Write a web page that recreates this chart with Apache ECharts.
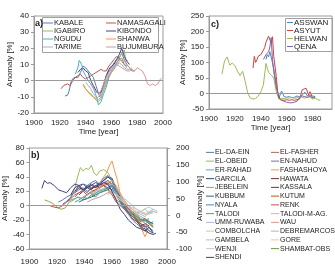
<!DOCTYPE html>
<html>
<head>
<meta charset="utf-8">
<script src="https://cdn.jsdelivr.net/npm/echarts@6/dist/echarts.min.js"></script>
<style>
html, body { margin: 0; padding: 0; background: #fff; }
#chart { width: 335px; height: 266px; }
</style>
</head>
<body>
<div id="chart"></div>
<script>
// panel a) - East Africa (lake region)
const kabale = [[1924,-9.5],[1926,-9],[1927,-7],[1928,-6],[1929,0],[1931,2],[1934,2],[1936,5],[1937,7],[1938,9],[1940,8],[1942,6],[1944,4],[1946,2],[1948,-3],[1950,-8],[1951,-10],[1952,-9],[1954,-3],[1956,3],[1958,6],[1960,8],[1962,11],[1964,13],[1966,14],[1968,17],[1970,13],[1972,10],[1974,8],[1976,6],[1978,6]]
const namasagali = [[1921,-5],[1923,-3],[1926,-2],[1928,-3],[1930,0],[1932,2],[1934,3],[1936,4],[1938,2],[1940,1],[1942,2],[1944,3],[1946,4],[1948,5],[1950,6],[1952,7],[1954,6],[1956,6],[1958,9],[1960,11],[1962,13],[1964,15],[1966,14],[1968,12],[1970,10],[1972,9]]
const igabiro = [[1938,-3],[1940,-5],[1942,-7],[1944,-9],[1946,-10],[1948,-12],[1950,-13],[1952,-11],[1954,-6],[1956,-2],[1958,2],[1960,5],[1962,8],[1964,11],[1966,14],[1968,17],[1970,19],[1971,13],[1973,12]]
const kibondo = [[1934,5],[1936,7],[1938,8],[1940,6],[1942,5],[1944,0],[1946,-3],[1948,-6],[1950,-8],[1952,-7],[1954,-2],[1956,3],[1958,7],[1960,9],[1962,10],[1964,13],[1966,16],[1968,20],[1970,15],[1972,12],[1974,10]]
const ngudu = [[1932,4],[1934,8],[1935,12.5],[1937,10],[1938,6],[1940,3],[1942,0],[1944,-2],[1946,-4],[1948,-9],[1950,-15],[1952,-13],[1954,-8],[1956,-4],[1958,2],[1960,6],[1962,9],[1964,11],[1966,13],[1968,14],[1970,10],[1972,8]]
const shanwa = [[1938,-2],[1940,-5],[1942,-7],[1944,-8],[1946,-10],[1948,-11],[1950,-10],[1952,-8],[1954,-5],[1956,-1],[1958,3],[1960,5],[1962,7],[1964,10],[1966,12],[1968,14],[1970,12],[1972,10],[1974,8],[1976,7]]
const tarime = [[1940,-1],[1942,-3],[1944,-5],[1946,-8],[1948,-10],[1950,-12],[1952,-10],[1954,-4],[1956,0],[1958,4],[1960,6],[1962,8],[1964,9],[1966,11],[1968,10],[1970,8],[1972,7],[1974,7],[1976,8]]
const bujumbura = [[1944,-2],[1946,-5],[1948,-7],[1950,-8],[1952,-6],[1954,-2],[1956,2],[1958,5],[1960,7],[1962,9],[1964,10],[1966,9],[1968,8],[1970,7],[1972,6],[1974,6],[1976,7],[1978,6],[1980,8],[1982,7],[1984,6],[1986,3],[1988,-2],[1990,-3],[1992,-2],[1994,-3],[1996,-2],[1998,1],[1999,1.5]]

// panel c) - Egypt
const asswan = [[1944,110],[1945,125],[1946,118],[1947,135],[1948,140],[1949,100],[1950,80],[1952,30],[1954,-15],[1956,8],[1957,10],[1958,-10],[1960,-12],[1962,-10],[1964,-14],[1966,-12],[1968,-8],[1970,-12],[1972,-5],[1974,5],[1976,-8],[1978,-5],[1980,-8],[1982,-10]]
const asyut = [[1934,82],[1935,120],[1936,100],[1937,108],[1938,120],[1940,125],[1942,140],[1943,148],[1944,165],[1946,185],[1947,191],[1948,163],[1949,183],[1950,120],[1952,54],[1953,5],[1955,-20],[1958,-22],[1960,-20],[1962,-22],[1964,-20],[1966,-22],[1968,-20],[1970,-18],[1972,12],[1973,18],[1975,17],[1977,-5],[1978,6],[1980,-15]]
const helwan = [[1910,62],[1912,105],[1914,118],[1916,92],[1918,98],[1920,90],[1922,72],[1924,58],[1926,72],[1928,38],[1930,0],[1932,-15],[1934,-18],[1936,-16],[1938,-8],[1940,5],[1942,28],[1944,97],[1946,68],[1948,60],[1950,50],[1952,5],[1954,-18],[1956,-15],[1958,-17],[1960,-14],[1962,-15],[1964,-12],[1966,-16],[1968,-14],[1970,-10],[1972,-12],[1974,-15],[1976,-12],[1978,-10],[1980,-18],[1982,-15],[1984,-20],[1986,-22]]
const qena = [[1942,110],[1944,125],[1946,135],[1947,150],[1948,180],[1949,110],[1950,70],[1952,20],[1954,-15],[1956,-22],[1958,-25],[1960,-28],[1962,-30],[1964,-30],[1966,-28],[1968,-25],[1970,-12],[1972,-8],[1974,-10],[1976,-12],[1978,-10],[1980,-14],[1982,-12]]

// panel b) - Sudan / Ethiopia
const elDaEin = [[1921,5],[1924,8],[1927,12],[1930,15],[1933,18],[1936,22],[1939,25],[1942,20],[1945,24],[1948,28],[1951,26],[1954,30],[1957,32],[1960,25],[1963,15],[1966,5],[1969,0],[1972,-5],[1975,-12],[1978,-15],[1981,-20],[1984,-25],[1987,-22],[1990,-28]]
const elFasher = [[1933,12],[1936,18],[1939,22],[1942,25],[1945,28],[1948,26],[1951,30],[1954,32],[1957,35],[1960,28],[1963,18],[1966,8],[1969,2],[1972,-5],[1975,-10],[1978,-18],[1981,-22],[1984,-20],[1987,-25],[1990,-30]]
const elObeid = [[1930,10],[1933,25],[1935,40],[1937,53],[1939,48],[1941,52],[1943,50],[1945,56],[1947,45],[1949,42],[1951,48],[1954,50],[1957,46],[1960,35],[1963,20],[1966,8],[1969,-2],[1972,-8],[1975,-12],[1978,-18],[1981,-25],[1984,-30],[1987,-35],[1990,-38]]
const enNahud = [[1924,2],[1927,6],[1930,12],[1933,20],[1936,28],[1939,22],[1942,18],[1945,25],[1948,28],[1951,24],[1954,30],[1957,35],[1960,30],[1963,20],[1966,10],[1969,0],[1972,-8],[1975,-15],[1978,-20],[1981,-25],[1984,-28],[1987,-30],[1990,-35]]
const erRahad = [[1927,5],[1930,8],[1933,10],[1936,12],[1939,8],[1942,10],[1945,15],[1948,18],[1951,20],[1954,22],[1957,25],[1960,30],[1963,20],[1966,5],[1969,-5],[1972,-10],[1975,-15],[1978,-12],[1981,-18],[1984,-20],[1987,-25],[1990,-22]]
const fashashoya = [[1948,25],[1951,32],[1954,40],[1956,45],[1958,55],[1960,62],[1962,48],[1964,35],[1966,15],[1969,5],[1972,0],[1975,-10],[1978,-18],[1981,-30],[1984,-43],[1986,-35]]
const garcila = [[1936,15],[1939,20],[1942,25],[1945,22],[1948,28],[1951,30],[1954,35],[1957,40],[1960,38],[1963,25],[1966,12],[1969,5],[1972,-5],[1975,-10],[1978,-20],[1981,-30],[1984,-32],[1987,-38],[1990,-40],[1992,-38]]
const hawata = [[1933,20],[1936,25],[1939,22],[1942,28],[1945,24],[1948,26],[1951,30],[1954,28],[1957,25],[1960,22],[1963,18],[1966,10],[1969,0],[1972,-5],[1975,-10],[1978,-15],[1981,-20],[1984,-25],[1987,-28]]
const jebelein = [[1911,8],[1914,6],[1917,3],[1920,-2],[1923,-5],[1926,-3],[1929,5],[1932,8],[1935,12],[1938,10],[1941,15],[1944,18],[1947,15],[1950,20],[1953,22],[1956,25],[1959,20],[1962,12],[1965,5],[1968,-2],[1971,-8],[1974,-12],[1977,-15],[1980,-18],[1983,-22],[1986,-20]]
const kassala = [[1930,15],[1933,25],[1936,28],[1939,30],[1942,25],[1945,28],[1948,32],[1951,30],[1954,35],[1957,40],[1960,35],[1963,20],[1966,8],[1969,-2],[1972,-10],[1975,-18],[1978,-22],[1981,-28],[1984,-25],[1987,-30]]
const kubbum = [[1936,5],[1939,8],[1942,10],[1945,12],[1948,15],[1951,18],[1954,20],[1957,22],[1960,28],[1963,20],[1966,10],[1969,0],[1972,-5],[1975,-10],[1978,-15],[1981,-20],[1984,-18],[1987,-22],[1990,-25]]
const kutum = [[1939,10],[1942,15],[1945,20],[1948,22],[1951,25],[1954,28],[1957,30],[1960,35],[1963,25],[1966,15],[1969,5],[1972,-5],[1975,-12],[1978,-20],[1981,-28],[1984,-35],[1987,-38]]
const nyala = [[1933,18],[1936,25],[1939,30],[1942,28],[1945,32],[1948,35],[1951,30],[1954,38],[1957,42],[1960,35],[1963,20],[1966,5],[1969,-5],[1972,-12],[1975,-20],[1978,-25],[1981,-30],[1984,-28],[1987,-35],[1990,-38]]
const renk = [[1915,0],[1918,-2],[1921,-3],[1924,0],[1927,5],[1930,10],[1933,15],[1936,18],[1939,20],[1942,15],[1945,18],[1948,22],[1951,25],[1954,28],[1957,22],[1960,15],[1963,5],[1966,0],[1969,-5],[1972,-10],[1975,-15],[1978,-20],[1981,-25],[1984,-30]]
const talodi = [[1933,5],[1936,8],[1939,12],[1942,10],[1945,15],[1948,12],[1951,18],[1954,20],[1957,25],[1960,28],[1963,18],[1966,8],[1969,0],[1972,-8],[1975,-12],[1978,-18],[1981,-22],[1984,-20],[1987,-18]]
const talodiMAg = [[1945,15],[1948,20],[1951,25],[1954,30],[1957,32],[1960,35],[1963,28],[1966,18],[1969,8],[1972,0],[1975,-10],[1978,-15],[1981,-20],[1984,-25],[1987,-30]]
const ummRuwaba = [[1936,10],[1939,12],[1942,15],[1945,18],[1948,20],[1951,22],[1954,24],[1957,28],[1960,30],[1963,25],[1966,15],[1969,5],[1972,-2],[1975,-8],[1978,-10],[1981,-12],[1984,-15],[1987,-10],[1990,-8]]
const wau = [[1942,5],[1945,8],[1948,10],[1951,12],[1954,15],[1957,18],[1960,20],[1963,15],[1966,10],[1969,2],[1972,-5],[1975,-10],[1978,-12],[1981,-15],[1984,-18],[1987,-20]]
const combolcha = [[1960,20],[1963,15],[1966,12],[1969,5],[1972,0],[1975,-5],[1978,-8],[1981,-10],[1984,-12],[1987,-8],[1990,-5]]
const debremarcos = [[1957,15],[1960,22],[1963,18],[1966,10],[1969,5],[1972,0],[1975,-5],[1978,-10],[1981,-8],[1984,-12],[1987,-10],[1990,-8],[1993,-10]]
const gambela = [[1969,10],[1972,5],[1975,0],[1978,-5],[1981,-8],[1984,-5],[1987,-10],[1990,-5],[1993,-8]]
const gore = [[1960,18],[1963,12],[1966,8],[1969,4],[1972,0],[1975,-3],[1978,-5],[1981,-8],[1984,-10],[1987,-12],[1990,-10]]
const wenji = [[1975,-2],[1978,-5],[1981,-8],[1984,-4],[1987,-2],[1990,-5],[1993,-8]]
const shambatObs = [[1975,-8],[1978,-15],[1981,-20],[1984,-18],[1987,-25],[1990,-30]]
const shendi = [[1909,24],[1911,35],[1913,31],[1915,32],[1918,28],[1921,22],[1924,20],[1927,18],[1930,25],[1933,30],[1936,28],[1939,22],[1942,26],[1945,30],[1948,25],[1951,28],[1954,32],[1957,30],[1960,20],[1963,8],[1966,-5],[1969,-12],[1972,-20],[1975,-25],[1978,-30],[1981,-32],[1984,-35],[1987,-30],[1990,-38]]

const namesA = ['KABALE', 'NAMASAGALI', 'IGABIRO', 'KIBONDO', 'NGUDU', 'SHANWA', 'TARIME', 'BUJUMBURA']
const dataA = [kabale, namasagali, igabiro, kibondo, ngudu, shanwa, tarime, bujumbura]
const colorsA = ['#4f81bd', '#c0504d', '#9bbb59', '#4d3b8a', '#4bacc6', '#f79646', '#95b3d7', '#d99694']

const namesC = ['ASSWAN', 'ASYUT', 'HELWAN', 'QENA']
const dataC = [asswan, asyut, helwan, qena]
const colorsC = ['#4f81bd', '#d0403d', '#9bbb59', '#8064a2']

const namesB = ['EL-DA-EIN', 'EL-FASHER', 'EL-OBEID', 'EN-NAHUD', 'ER-RAHAD', 'FASHASHOYA', 'GARCILA', 'HAWATA',
  'JEBELEIN', 'KASSALA', 'KUBBUM', 'KUTUM', 'NYALA', 'RENK', 'TALODI', 'TALODI-M-AG.', 'UMM-RUWABA', 'WAU',
  'COMBOLCHA', 'DEBREMARCOS', 'GAMBELA', 'GORE', 'WENJI', 'SHAMBAT-OBS', 'SHENDI']
const dataB = [elDaEin, elFasher, elObeid, enNahud, erRahad, fashashoya, garcila, hawata, jebelein, kassala, kubbum, kutum,
  nyala, renk, talodi, talodiMAg, ummRuwaba, wau, combolcha, debremarcos, gambela, gore, wenji, shambatObs, shendi]
const colorsB = ['#5b7aa6', '#b26462', '#9bbb59', '#7a68a6', '#4bacc6', '#f79646', '#2c4d75', '#772c2a',
  '#8aab45', '#4d3b62', '#276a7c', '#b65708', '#4f81bd', '#c0504d', '#3fa3a3', '#f9ab6b', '#a5b8dc', '#d99694',
  '#c3d69b', '#b8b0cc', '#93cddd', '#fac090', '#c8c8c8', '#77933c', '#3c3c8c']

const FONT = '"Liberation Sans", Arial, sans-serif'
const txt = { fontSize: 8, color: '#222', fontFamily: FONT }
const axisGray = { color: '#9a9a9a', width: 1 }

function xAx (grid, max, extra) {
  return Object.assign({
    gridIndex: grid, type: 'value', min: 1900, max: max, interval: 20,
    axisLine: { show: true, onZero: false, lineStyle: axisGray },
    axisTick: { show: false },
    splitLine: { show: false },
    axisLabel: Object.assign({ margin: 6, showMaxLabel: max % 20 === 0, formatter: v => String(v) }, txt)
  }, extra || {})
}

function yAx (grid, min, max, step, gap, extra) {
  return Object.assign({
    gridIndex: grid, type: 'value', min: min, max: max, interval: step,
    axisLine: { show: true, lineStyle: axisGray },
    axisTick: { show: true, length: 3, lineStyle: axisGray },
    splitLine: { show: false },
    axisLabel: Object.assign({ margin: 5 }, txt),
    name: 'Anomaly [%]', nameLocation: 'middle', nameGap: gap, nameRotate: 90,
    nameTextStyle: txt
  }, extra || {})
}

const zeroLine = {
  silent: true, symbol: 'none', label: { show: false },
  lineStyle: { color: '#9a9a9a', type: 'solid', width: 1 },
  data: [{ yAxis: 0 }]
}

function lines (names, data, colors, axisIdx) {
  return names.map((n, i) => ({
    name: n, type: 'line', xAxisIndex: axisIdx, yAxisIndex: axisIdx,
    data: data[i], symbol: 'none', color: colors[i],
    lineStyle: { width: 1 }, animation: false,
    markLine: i === 0 ? zeroLine : undefined
  }))
}

// legend columns: plain dash + text, like the spreadsheet legend
function legendCol (names, left, top, rowH, iconW, size) {
  return {
    data: names, orient: 'vertical', left: left, top: top, padding: 0,
    icon: 'rect', itemWidth: iconW, itemHeight: 1, itemGap: 0, selectedMode: false,
    textStyle: Object.assign({}, txt, { fontSize: size, lineHeight: rowH, padding: [0, 0, 0, -4] })
  }
}

const chart = echarts.init(document.getElementById('chart'))
chart.setOption({
  animation: false,
  textStyle: { fontFamily: FONT },
  grid: [
    { left: 34, top: 16, width: 129, height: 97, show: true, borderColor: '#9a9a9a', borderWidth: 1 },
    { left: 209, top: 16, width: 123, height: 93, show: true, borderColor: '#9a9a9a', borderWidth: 1 },
    { left: 28, top: 148, width: 139, height: 105, show: true, borderColor: '#9a9a9a', borderWidth: 1 }
  ],
  xAxis: [
    xAx(0, 2000, { name: 'Time [year]', nameLocation: 'middle', nameGap: 14, nameTextStyle: txt }),
    xAx(1, 1995, { name: 'Time [year]', nameLocation: 'middle', nameGap: 14, nameTextStyle: txt }),
    xAx(2, 2000, { axisLabel: Object.assign({ margin: 9, formatter: v => String(v) }, txt) })
  ],
  yAxis: [
    yAx(0, -20, 40, 10, 15),
    yAx(1, -50, 250, 50, 17),
    yAx(2, -60, 80, 20, 14),
    yAx(2, -100, 200, 50, 22, {
      position: 'right',
      axisLabel: Object.assign({ margin: 9 }, txt)
    })
  ],
  title: [
    { text: 'a)', left: 35, top: 19, padding: 0, textStyle: { fontSize: 9, fontWeight: 'bold', color: '#222', fontFamily: FONT } },
    { text: 'c)', left: 211, top: 20, padding: 0, textStyle: { fontSize: 9, fontWeight: 'bold', color: '#222', fontFamily: FONT } },
    { text: 'b)', left: 31, top: 151, padding: 0, textStyle: { fontSize: 9, fontWeight: 'bold', color: '#222', fontFamily: FONT } }
  ],
  graphic: [
    { type: 'rect', z: 1, shape: { x: 42.5, y: 17.5, width: 116, height: 35 }, style: { fill: 'none', stroke: '#a0a0a0', lineWidth: 1 } },
    { type: 'rect', z: 1, shape: { x: 285.5, y: 18.5, width: 47, height: 33 }, style: { fill: 'none', stroke: '#a0a0a0', lineWidth: 1 } }
  ],
  legend: [
    legendCol(['KABALE', 'IGABIRO', 'NGUDU', 'TARIME'], 43, 19, 7.6, 10, 7.5),
    legendCol(['NAMASAGALI', 'KIBONDO', 'SHANWA', 'BUJUMBURA'], 106, 19, 7.6, 10, 7.5),
    legendCol(namesC, 287, 18.5, 8, 6, 8),
    legendCol(namesB.filter((n, i) => i % 2 === 0), 206, 148, 8.75, 8, 7),
    legendCol(namesB.filter((n, i) => i % 2 === 1), 271, 148, 8.75, 8, 7)
  ],
  series: [].concat(
    lines(namesA, dataA, colorsA, 0),
    lines(namesC, dataC, colorsC, 1),
    lines(namesB, dataB, colorsB, 2)
  )
})
</script>
</body>
</html>
